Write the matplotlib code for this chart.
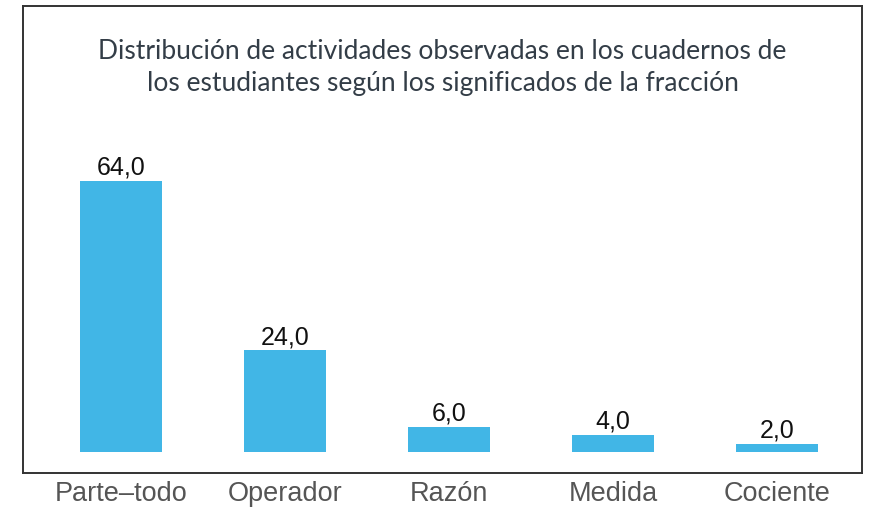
import matplotlib
matplotlib.use("Agg")
import matplotlib.pyplot as plt

categories = ["Parte–todo", "Operador", "Razón", "Medida", "Cociente"]
values = [64.0, 24.0, 6.0, 4.0, 2.0]
value_labels = ["64,0", "24,0", "6,0", "4,0", "2,0"]
title = "Distribución de actividades observadas en los cuadernos de\nlos estudiantes según los significados de la fracción"

W, H = 873, 510
fig = plt.figure(figsize=(W / 100, H / 100), dpi=100)
ax = fig.add_axes([23 / W, (H - 474) / H, (862 - 23) / W, (474 - 7) / H])

x = list(range(len(categories)))
ax.bar(x, values, width=0.5, color="#41B6E6", zorder=2)

ax.set_xlim(-0.598, 4.518)
ax.set_ylim(-4.96, 105.3)

for xi, v, lab in zip(x, values, value_labels):
    ax.text(xi, v + 0.5, lab, ha="center", va="bottom", fontsize=18,
            family="Liberation Sans", color="#111111")

ax.set_xticks(x)
ax.set_xticklabels(categories, fontsize=19.5, family="Liberation Sans", color="#555555")
ax.tick_params(axis="x", length=0, pad=5)
ax.set_yticks([])
for s in ax.spines.values():
    s.set_color("#333333")
    s.set_linewidth(1.4)

ax.text(0.5, 0.870, title, transform=ax.transAxes, ha="center", va="center",
        fontsize=19, family="Lato", color="#333d47", linespacing=1.33)

fig.savefig("out.png", dpi=100)
